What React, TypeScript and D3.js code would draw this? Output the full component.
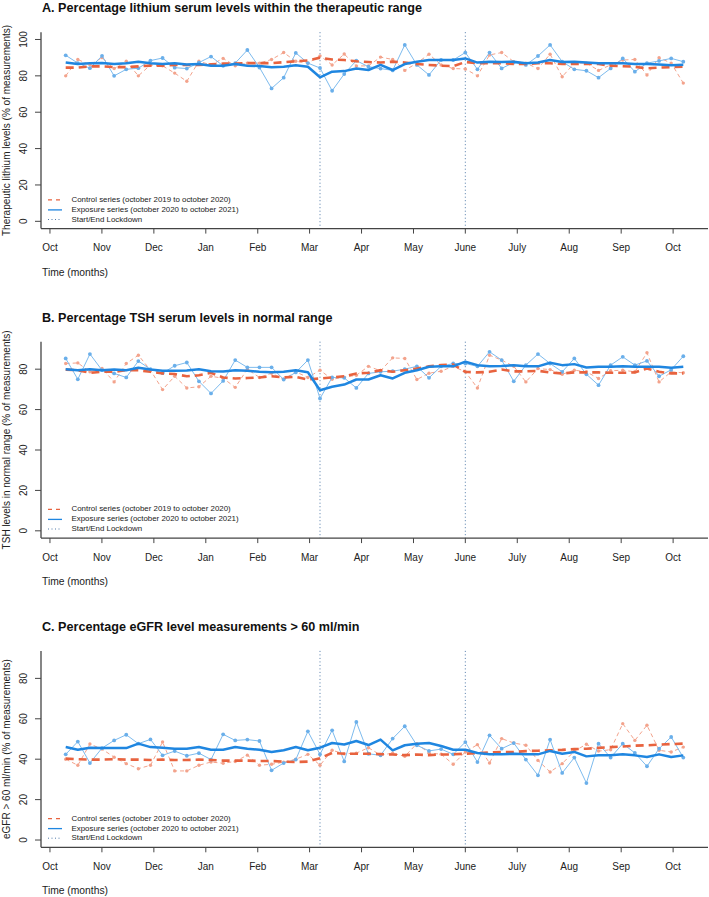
import React from 'react';
import * as d3 from 'd3';

// ---------- data ----------
const monthLabels = ['Oct', 'Nov', 'Dec', 'Jan', 'Feb', 'Mar', 'Apr', 'May', 'June', 'July', 'Aug', 'Sep', 'Oct'];
// month tick positions, in weeks since the first measurement
const monthTickWeeks = [-1.3, 2.99, 7.28, 11.57, 15.86, 20.14, 24.43, 28.72, 33.0, 37.29, 41.58, 45.87, 50.16];
const lockdownWeeks = [21, 33];
const legendLabels = [
  'Control series (october 2019 to october 2020)',
  'Exposure series (october 2020 to october 2021)',
  'Start/End Lockdown',
];

// A. lithium
const lithiumControl = [80, 89, 86, 90, 84, 88, 80, 86, 85.5, 81.5, 77, 88, 86, 89.6, 85.5, 87, 87, 89, 92.8, 88, 87, 91, 86, 92, 85.4, 85.5, 90.3, 89, 83, 87, 91.9, 86, 84, 83.8, 80, 91.5, 92.8, 87.8, 87, 84, 91.9, 79.5, 87, 87, 83, 86, 88.7, 89, 80.5, 90, 87, 76];
const lithiumControlFit = [84.5, 84.5, 85.2, 85.2, 84.8, 84.8, 85.2, 85.6, 85.6, 86, 86, 86, 86.3, 86.7, 86.7, 87, 87, 87, 87.5, 88, 88.5, 90, 89, 88.7, 88, 87.6, 87.3, 87.8, 87.3, 86.5, 86, 85.6, 85.3, 87.6, 87, 87, 87, 86.5, 86.5, 86.9, 86.9, 86.5, 86.5, 86.5, 86.5, 85.6, 85.3, 85, 84.1, 84.5, 84.8, 85];
const lithiumExposure = [91.3, 87, 84.2, 91, 80, 83.6, 84.2, 88.4, 89.8, 84.5, 84, 87.3, 90.6, 85.5, 87, 94.2, 84.6, 73.1, 79, 92.6, 87, 84.3, 71.8, 81, 88.4, 85, 84, 83, 97, 86, 80.5, 88.7, 88.7, 92.8, 83.6, 92.8, 84.1, 87.3, 86, 90.9, 97, 87.8, 83.6, 82.8, 79, 84.1, 89.6, 82.3, 87, 88.2, 89.6, 87.8];
const lithiumExposureFit = [87.4, 86.5, 86.9, 87, 86.5, 86.9, 87.8, 86.9, 86.5, 86.9, 86.3, 86.5, 85.6, 85.6, 86.5, 85.6, 85.4, 84.7, 85, 85.8, 85, 79.2, 82.3, 82.6, 84, 83.2, 86, 83.2, 86.5, 87.8, 88.7, 88.7, 88.7, 89.6, 87.3, 87.8, 87.6, 87.8, 86.9, 87.3, 88.7, 87.6, 87.8, 87.3, 86.9, 86.9, 86.9, 86.5, 86.5, 86.3, 85.8, 86.1];

// B. TSH
const tshControl = [82.8, 83.1, 78.7, 80.3, 73.7, 82.8, 86.9, 79.5, 69.9, 76.5, 70.7, 71.3, 76.5, 75.5, 71, 80, 75.9, 78, 75, 78.7, 75.9, 79.5, 75, 76, 77, 81.4, 79.2, 85.6, 85.3, 74.9, 78, 79, 81.4, 78.7, 70.7, 86.9, 84.5, 81.4, 73.7, 80.3, 79.8, 77.5, 79.5, 78.7, 75.4, 79.2, 79.5, 78.7, 88.1, 73.7, 78.7, 78.2];
const tshControlFit = [79.8, 79.5, 78.2, 78.7, 78.7, 79.5, 79.5, 78.7, 77.9, 77.6, 76.5, 77, 78.2, 75.9, 75.4, 75.6, 75.9, 76.5, 75.9, 76.2, 74.9, 75.4, 75.9, 76.5, 77.9, 78.2, 79.5, 78.7, 79.5, 80.3, 81.4, 82, 82.3, 78.7, 78.4, 78.7, 79.8, 78.9, 78.9, 79.2, 78.4, 77.9, 78.4, 78.4, 78.4, 78.2, 78.2, 78.4, 80.3, 78.7, 77.9, 77.9];
const tshExposure = [85.3, 75, 87.5, 79.5, 77.9, 75.9, 84, 80, 78, 81.7, 83.3, 74, 68, 74.2, 84.5, 80.9, 80.9, 80.9, 74.9, 78.4, 84.5, 65.5, 75.9, 75.7, 70.7, 77.9, 78.7, 79, 80, 81.4, 75.7, 81.4, 82.8, 82.8, 81.4, 88.6, 84.5, 74, 82, 87.5, 82.8, 78.7, 85.3, 77.5, 72.1, 82, 86.1, 82, 84.1, 76.5, 79.7, 86.4];
const tshExposureFit = [80, 79.5, 80, 79.5, 79.8, 79.5, 80.7, 79.8, 79.2, 79.2, 79.4, 80, 79, 78.9, 79.5, 79.2, 78.7, 78.5, 78.7, 79.5, 78.5, 69.6, 71.3, 72.4, 74.9, 74.9, 77, 75.4, 78.2, 79.5, 81.2, 81.4, 81.4, 83.7, 82, 81.4, 81.6, 82, 81.4, 81.4, 83.2, 82, 82.5, 80.8, 81.2, 81.2, 81.4, 81.2, 81.2, 81.2, 80.7, 81.2];

// C. eGFR
const egfrControl = [40, 37, 47.5, 45, 41, 37.8, 35.3, 37, 48.5, 34.2, 34.2, 37, 38.6, 38, 38.9, 42, 37, 37.5, 38.5, 40, 42.4, 37, 44.4, 42.7, 43, 45.7, 42, 43, 41.4, 47.7, 43, 42.5, 37.5, 43.6, 47.2, 38.1, 50.2, 48, 46.9, 39.4, 33.7, 37.8, 44, 47.4, 44, 44.7, 57.6, 49.3, 56.8, 44.4, 43.6, 46];
const egfrControlFit = [40.3, 40, 39.8, 39.8, 40, 39.8, 39.8, 39.6, 39.8, 39.6, 39.6, 39.8, 39.6, 39.3, 39.3, 39.3, 39.1, 39.1, 38.8, 38.6, 38.8, 40.5, 43.1, 42.7, 42.7, 42.7, 42.5, 42.3, 42, 42.3, 42, 42.3, 42.4, 42.7, 43, 43.4, 43.6, 43.6, 44, 44.2, 44.4, 44.6, 45, 45.2, 45.6, 46, 46.3, 46.7, 46.9, 47.2, 47.5, 47.7];
const egfrExposure = [42.4, 48.7, 38.1, 45.5, 49.3, 52.1, 47.7, 49.8, 41.9, 44, 41.7, 43, 39.8, 52.3, 49.3, 49.7, 49, 34.5, 38.1, 39.8, 53.8, 42.4, 54.3, 38.9, 58.4, 42.7, 41.9, 50.2, 56.3, 46.9, 44.1, 45, 42.4, 48.5, 38.6, 51.8, 45.2, 48, 39.8, 32, 49.7, 33.2, 40.8, 28.2, 47.7, 40.8, 47.7, 43.1, 36.5, 45.2, 51, 40.8];
const egfrExposureFit = [46, 44.7, 45.7, 45.5, 45.5, 45.5, 47.7, 46, 45.7, 45.2, 45.2, 46, 44.7, 44.7, 46, 45.2, 44.7, 43.6, 44.4, 46, 44.4, 45.7, 48, 47.3, 49, 47, 49.7, 44.4, 46.9, 47.7, 48, 46.5, 44.7, 44.7, 43.1, 42.4, 42.4, 42.7, 42.4, 42.4, 44.1, 42.7, 43.6, 41.4, 41.9, 41.9, 42.4, 41.9, 41.1, 42.4, 41.1, 41.9];

const panels = [
  {
    title: 'A. Percentage lithium serum levels within the therapeutic range',
    ylabel: 'Therapeutic lithium levels (% of measurements)',
    ymax: 100, yticks: [0, 20, 40, 60, 80, 100], top: 32.2,
    control: lithiumControl, controlFit: lithiumControlFit,
    exposure: lithiumExposure, exposureFit: lithiumExposureFit,
  },
  {
    title: 'B. Percentage TSH serum levels in normal range',
    ylabel: 'TSH levels in normal range (% of measurements)',
    ymax: 90, yticks: [0, 20, 40, 60, 80], top: 341.7,
    control: tshControl, controlFit: tshControlFit,
    exposure: tshExposure, exposureFit: tshExposureFit,
  },
  {
    title: 'C. Percentage eGFR level measurements > 60 ml/min',
    ylabel: 'eGFR > 60 ml/min (% of measurements)',
    ymax: 90, yticks: [0, 20, 40, 60, 80], top: 650.9,
    control: egfrControl, controlFit: egfrControlFit,
    exposure: egfrExposure, exposureFit: egfrExposureFit,
  },
];

// ---------- styles ----------
const FONT = '"Liberation Sans", Arial, Helvetica, sans-serif';
const C_RED = '#E8633F';
const C_RED_LIGHT = '#F3A38C';
const C_BLUE = '#1F86E0';
const C_BLUE_LIGHT = '#7DBBEE';
const C_BLUE_PT = '#6AAFEA';
const C_LOCK = '#4F79A8';
const C_AXIS = '#444';

const W = 709;
const H = 897;
const PLOT_H = 196.4;
const N = lithiumControl.length;

const x = d3.scaleLinear().domain([-0.04 * (N - 1), (N - 1) * 1.04]).range([41, 708]);

function Panel({ p }: { p: typeof panels[number] }) {
  const pad = p.ymax * 0.04;
  const y = d3.scaleLinear().domain([-pad, p.ymax + pad]).range([PLOT_H, 0]);
  const line = d3.line<number>().x((_, i) => x(i)).y((d) => y(d));
  const bottom = PLOT_H;
  const left = x.range()[0];
  const right = x.range()[1];
  const legendRows = [bottom - 28.7, bottom - 18.7, bottom - 9.1];
  return (
    <g transform={`translate(0,${p.top})`}>
      <text x={42} y={-20} fontFamily={FONT} fontWeight="bold" fontSize={12.6} fill="#111">{p.title}</text>
      {/* lockdown lines */}
      {lockdownWeeks.map((w) => (
        <line key={w} x1={x(w)} x2={x(w)} y1={0} y2={bottom} stroke={C_LOCK} strokeWidth={1} strokeDasharray="1,2.5" />
      ))}
      {/* raw control */}
      <path d={line(p.control) || ''} fill="none" stroke={C_RED_LIGHT} strokeWidth={1} strokeDasharray="4,3" />
      {p.control.map((v, i) => (
        <circle key={'c' + i} cx={x(i)} cy={y(v)} r={1.7} fill={C_RED_LIGHT} />
      ))}
      {/* raw exposure */}
      <path d={line(p.exposure) || ''} fill="none" stroke={C_BLUE_LIGHT} strokeWidth={1} />
      {p.exposure.map((v, i) => (
        <circle key={'e' + i} cx={x(i)} cy={y(v)} r={1.9} fill={C_BLUE_PT} />
      ))}
      {/* fitted */}
      <path d={line(p.controlFit) || ''} fill="none" stroke={C_RED} strokeWidth={2.6} strokeDasharray="8,5" />
      <path d={line(p.exposureFit) || ''} fill="none" stroke={C_BLUE} strokeWidth={2.5} strokeLinejoin="round" />
      {/* axes */}
      <line x1={left} x2={left} y1={0} y2={bottom} stroke={C_AXIS} strokeWidth={1.3} />
      <line x1={left} x2={right} y1={bottom} y2={bottom} stroke={C_AXIS} strokeWidth={1.3} />
      {p.yticks.map((t) => (
        <g key={t}>
          <line x1={left - 6} x2={left} y1={y(t)} y2={y(t)} stroke={C_AXIS} strokeWidth={1} />
          <text transform={`translate(27,${y(t)}) rotate(-90)`} textAnchor="middle" fontFamily={FONT} fontSize={10} fill="#222">{t}</text>
        </g>
      ))}
      {monthTickWeeks.map((w, i) => (
        <g key={i}>
          <line x1={x(w)} x2={x(w)} y1={bottom} y2={bottom + 5} stroke={C_AXIS} strokeWidth={1} />
          <text x={x(w)} y={bottom + 22.5} textAnchor="middle" fontFamily={FONT} fontSize={10} fill="#222">{monthLabels[i]}</text>
        </g>
      ))}
      <text x={42} y={bottom + 47} fontFamily={FONT} fontSize={10.3} fill="#222">Time (months)</text>
      <text transform={`translate(10,${bottom / 2}) rotate(-90)`} textAnchor="middle" fontFamily={FONT} fontSize={10} fill="#222">{p.ylabel}</text>
      {/* legend */}
      <line x1={48} x2={62} y1={legendRows[0]} y2={legendRows[0]} stroke={C_RED} strokeWidth={1.2} strokeDasharray="4,4" />
      <line x1={48} x2={62} y1={legendRows[1]} y2={legendRows[1]} stroke={C_BLUE} strokeWidth={1.3} />
      <line x1={48} x2={62} y1={legendRows[2]} y2={legendRows[2]} stroke={C_LOCK} strokeWidth={1} strokeDasharray="1,2.5" />
      {legendLabels.map((l, i) => (
        <text key={l} x={71.5} y={legendRows[i]} dominantBaseline="middle" fontFamily={FONT} fontSize={7.9} fill="#222">{l}</text>
      ))}
    </g>
  );
}

export default function App() {
  return (
    <svg width={W} height={H} style={{ position: 'absolute', left: 0, top: 0, background: '#fff' }}>
      <rect width={W} height={H} fill="#fff" />
      {panels.map((p) => (
        <Panel key={p.title} p={p} />
      ))}
    </svg>
  );
}
